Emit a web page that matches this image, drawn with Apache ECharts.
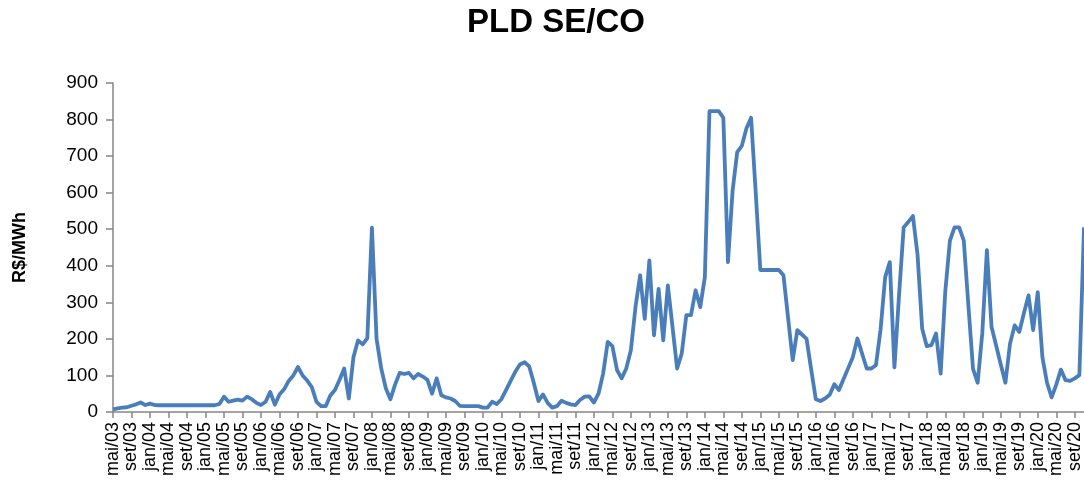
<!DOCTYPE html>
<html>
<head>
<meta charset="utf-8">
<title>PLD SE/CO</title>
<script src="https://cdn.jsdelivr.net/npm/echarts@6/dist/echarts.min.js"></script>
<style>
  html, body { margin: 0; padding: 0; background: #fff; }
  #chart { width: 1084px; height: 491px; }
</style>
</head>
<body>
<div id="chart"></div>
<script>
// PLD SE/CO, media mensal em R$/MWh (mai/03 a nov/20)
var meses = ['jan', 'fev', 'mar', 'abr', 'mai', 'jun', 'jul', 'ago', 'set', 'out', 'nov', 'dez'];
var pld2003 = [7, 10, 12, 13, 17, 21, 26, 19]; // mai..dez
var pld2004 = [23, 19, 18.5, 18.5, 18.5, 18.5, 18.5, 18.5, 18.5, 18.5, 18.5, 18.5];
var pld2005 = [18.5, 18.5, 18.5, 22, 42, 28, 31, 34, 31, 42, 35, 25];
var pld2006 = [19, 28, 55, 20, 48, 62, 85, 100, 123, 100, 86, 68];
var pld2007 = [28, 16, 16, 45, 60, 88, 119, 37, 150, 196, 185, 202];
var pld2008 = [504, 200, 120, 65, 35, 75, 107, 104, 107, 92, 104, 97];
var pld2009 = [88, 50, 92, 46, 40, 37, 30, 17, 16, 16, 16, 16];
var pld2010 = [12, 12, 28, 22, 35, 60, 85, 110, 130, 136, 125, 80];
var pld2011 = [30, 48, 25, 12, 16, 31, 25, 21, 19, 33, 42, 43];
var pld2012 = [26, 50, 105, 192, 180, 115, 92, 119, 169, 287, 374, 255];
var pld2013 = [415, 210, 337, 196, 346, 233, 119, 160, 265, 265, 333, 287];
var pld2014 = [369, 822.83, 822.83, 822.83, 805, 410, 605, 711, 728, 776, 805, 601];
var pld2015 = [388.48, 388.48, 388.48, 388.48, 388.48, 374, 258, 142, 224, 212, 200, 116];
var pld2016 = [35, 30, 37, 47, 76, 60, 90, 120, 150, 201, 160, 119];
var pld2017 = [119, 128, 225, 369, 410, 122, 320, 505, 520, 536, 430, 228];
var pld2018 = [180, 183, 215, 105, 330, 469, 505, 505, 469, 290, 118, 80];
var pld2019 = [215, 443, 233, 182, 130, 80, 187, 237, 219, 270, 319, 224];
var pld2020 = [328, 150, 80, 40, 75, 116, 87, 85, 92, 101, 505]; // jan..nov

var valores = [].concat(pld2003, pld2004, pld2005, pld2006, pld2007, pld2008, pld2009,
  pld2010, pld2011, pld2012, pld2013, pld2014, pld2015, pld2016, pld2017, pld2018,
  pld2019, pld2020);

// rotulos do eixo x: mai/03, jun/03, ...
var categorias = [];
for (var k = 0; k < valores.length; k++) {
  var m = 4 + k;
  var ano = 3 + Math.floor(m / 12);
  categorias.push(meses[m % 12] + '/' + (ano < 10 ? '0' + ano : ano));
}

var fonte = '"Liberation Sans", Arial, sans-serif';
var corEixo = '#868686';

var chart = echarts.init(document.getElementById('chart'));
var option = {
  animation: false,
  backgroundColor: '#fff',
  title: {
    text: 'PLD SE/CO',
    left: 551,
    top: 1,
    textAlign: 'center',
    textStyle: {
      fontFamily: fonte,
      fontSize: 33,
      fontWeight: 'bold',
      color: '#000'
    }
  },
  grid: {
    left: 113,
    right: 0,
    top: 83,
    bottom: 79
  },
  xAxis: {
    type: 'category',
    boundaryGap: false,
    data: categorias,
    axisLine: { lineStyle: { color: corEixo, width: 1.5 } },
    axisTick: { interval: 3, length: 6, lineStyle: { color: corEixo, width: 1.5 } },
    axisLabel: {
      interval: 3,
      rotate: 90,
      margin: 10,
      fontFamily: fonte,
      fontSize: 18,
      color: '#000'
    },
    splitLine: { show: false }
  },
  yAxis: {
    type: 'value',
    min: 0,
    max: 900,
    interval: 100,
    name: 'R$/MWh',
    nameLocation: 'middle',
    nameGap: 84,
    nameTextStyle: {
      fontFamily: fonte,
      fontSize: 18,
      fontWeight: 'bold',
      color: '#000'
    },
    axisLine: { show: true, lineStyle: { color: corEixo, width: 1.5 } },
    axisTick: { show: true, length: 7, lineStyle: { color: corEixo, width: 1.5 } },
    axisLabel: {
      margin: 15,
      fontFamily: fonte,
      fontSize: 19,
      color: '#000'
    },
    splitLine: { show: false }
  },
  series: [
    {
      name: 'PLD SE/CO',
      type: 'line',
      data: valores,
      showSymbol: false,
      symbol: 'none',
      lineStyle: { color: '#4a7ebb', width: 3.8, join: 'round' },
      itemStyle: { color: '#4a7ebb' }
    }
  ]
};
chart.setOption(option);
</script>
</body>
</html>
